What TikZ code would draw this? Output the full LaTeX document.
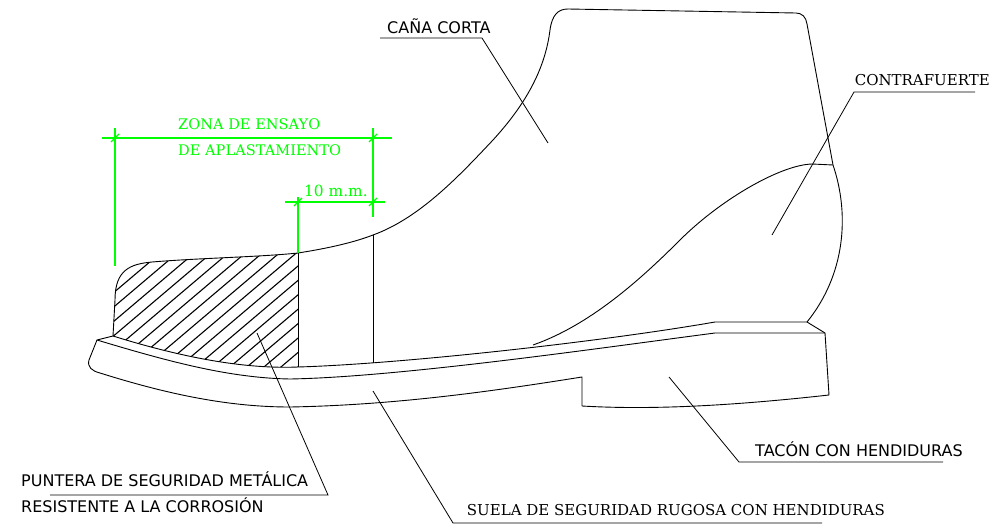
\documentclass[tikz,border=0pt]{standalone}
\usepackage{fontspec}
\setmainfont{DejaVu Serif}
\newfontfamily\lblsans{DejaVu Sans}
\begin{document}
\begin{tikzpicture}[x=1pt,y=-1pt,
  outline/.style={draw=black,line width=0.9pt,line join=round},
  leader/.style={draw=black,line width=0.8pt},
  dimline/.style={draw=green,line width=1.2pt},
  hatchline/.style={draw=black,line width=1.1pt},
  sanslbl/.style={anchor=base west,inner sep=0pt,font=\lblsans\fontsize{16}{18}\selectfont},
  seriflbl/.style={anchor=base west,inner sep=0pt,font=\fontsize{15}{17}\selectfont},
  dimlbl/.style={anchor=base west,inner sep=0pt,text=green,font=\fontsize{14.6}{17}\selectfont}]
\useasboundingbox (0,0) rectangle (995,527);

% ---- toe cap (hatched) ----
\begin{scope}
  \clip (113,336) -- (115,300) .. controls (115,270) and (130,264) .. (152,262)
        .. controls (200,258) and (260,257) .. (298,253) -- (298,367)
        .. controls (250,369) and (190,360) .. (113,336) -- cycle;
  \foreach \d in {-300,-283,...,300}
    \draw[hatchline] (\d+100,400) -- ++(250,-212);
\end{scope}
\draw[outline] (113,336) -- (115,300) .. controls (115,270) and (130,264) .. (152,262)
      .. controls (200,258) and (260,257) .. (298,253);
\draw[outline] (298,253) -- (298,367);

% ---- upper: vamp, shaft and back ----
\draw[outline] (298,253) .. controls (330,248) and (355,242) .. (373,235)
      .. controls (420,218) and (460,175) .. (493,140)
      .. controls (525,105) and (545,70) .. (550,30)
      .. controls (552,15) and (558,9) .. (568,9) -- (796,13)
      .. controls (802,13) and (806,17) .. (807,24) -- (833,165)
      .. controls (850,215) and (845,275) .. (807,322);
\draw[outline] (373,235) -- (373,363);

% heel counter
\draw[outline] (833,165) -- (812,164) .. controls (780,165) and (720,200) .. (680,240)
      .. controls (640,280) and (590,325) .. (533,345);

% lower edge of the upper
\draw[outline] (113,336) .. controls (190,360) and (250,369) .. (298,367)
      .. controls (400,364) and (600,342) .. (715,322) -- (807,322) -- (825,333);

% ---- sole and heel ----
\draw[outline] (113,336) -- (97,340)
      .. controls (170,362) and (230,378) .. (290,379)
      .. controls (400,377) and (600,348) .. (715,333) -- (825,333);
\draw[outline] (97,340) -- (89,360) .. controls (87,367) and (92,371) .. (100,373)
      .. controls (170,395) and (230,407) .. (290,407)
      .. controls (400,405) and (500,390) .. (582,377) -- (582,406)
      .. controls (650,410) and (730,406) .. (829,395) -- (825,333);

% ---- crush test zone dimensions ----
\draw[dimline] (102,138) -- (392,138);
\draw[dimline] (115,128) -- (115,266);
\draw[dimline] (373,128) -- (373,217);
\draw[dimline] (285,202) -- (385,202);
\draw[dimline] (298,197) -- (298,253);
\foreach \p in {(115,138),(373,138),(298,202),(373,202)}
  \draw[dimline] \p ++(-4,4) -- ++(8,-8);
\node[dimlbl] (zona1) at (178,129) {ZONA DE ENSAYO};
\node[dimlbl] (zona2) at (178,155) {DE APLASTAMIENTO};
\node[dimlbl,font=\fontsize{15.4}{17}\selectfont] (diez) at (304,196) {10 m.m.};

% ---- labels and leaders ----
\node[sanslbl] (cana) at (387,34) {CAÑA CORTA};
\coordinate (canaA) at (380,38); \coordinate (canaB) at (482,38); \coordinate (canaC) at (548,143);
\draw[leader] (canaA) -- (canaB) -- (canaC);

\node[seriflbl,anchor=base east] (contra) at (990,85) {CONTRAFUERTE};
\coordinate (contraA) at (975,92); \coordinate (contraB) at (854,92); \coordinate (contraC) at (772,235);
\draw[leader] (contraA) -- (contraB) -- (contraC);

\node[sanslbl] (tacon) at (755,456) {TACÓN CON HENDIDURAS};
\coordinate (taconA) at (669,377); \coordinate (taconB) at (739,462); \coordinate (taconC) at (943,462);
\draw[leader] (taconA) -- (taconB) -- (taconC);

\node[seriflbl,anchor=base east] (suela) at (885,515) {SUELA DE SEGURIDAD RUGOSA CON HENDIDURAS};
\coordinate (suelaA) at (373,391); \coordinate (suelaB) at (453,523); \coordinate (suelaC) at (822,523);
\draw[leader] (suelaA) -- (suelaB) -- (suelaC);

\node[sanslbl] (punt1) at (21,486) {PUNTERA DE SEGURIDAD METÁLICA};
\node[sanslbl] (punt2) at (21,512) {RESISTENTE A LA CORROSIÓN};
\coordinate (puntA) at (257,333); \coordinate (puntB) at (328,495); \coordinate (puntC) at (50,495);
\draw[leader] (puntA) -- (puntB) -- (puntC);
\end{tikzpicture}
\end{document}
